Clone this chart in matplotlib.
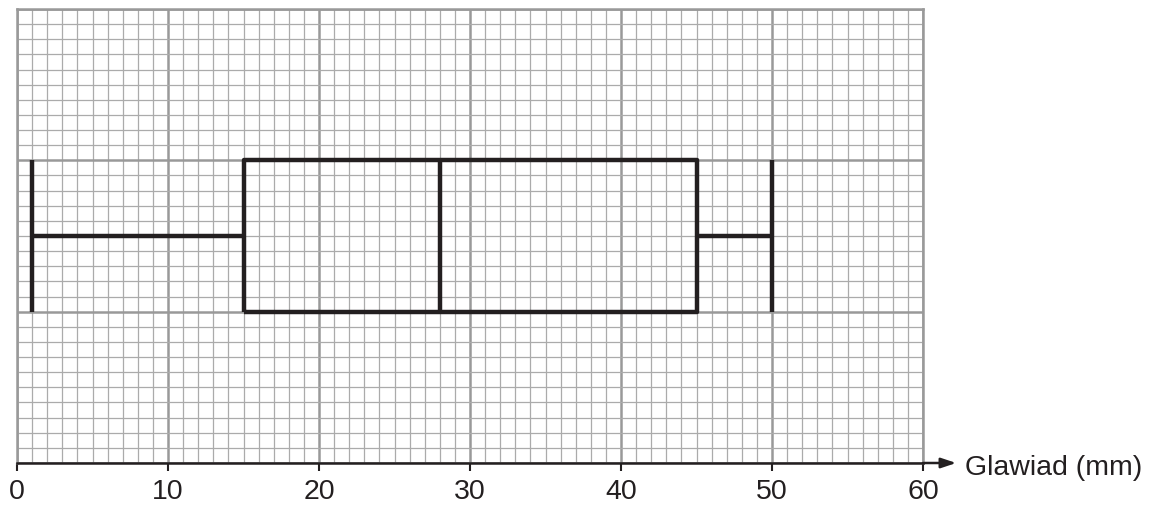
import matplotlib.pyplot as plt
from matplotlib.ticker import MultipleLocator

plt.rcParams['font.family'] = ['Liberation Sans', 'DejaVu Sans']

# Five-number summary of the box plot (rainfall, mm)
box_min = 1
box_q1 = 15
box_median = 28
box_q3 = 45
box_max = 50

x_ticks = [0, 10, 20, 30, 40, 50, 60]
x_label = 'Glawiad (mm)'

# vertical placement of the box on the grid (grid units)
box_bottom, box_top = 10, 20
box_mid = (box_bottom + box_top) / 2

fig = plt.figure(figsize=(11.55, 5.06), dpi=100)
ax = fig.add_axes([17 / 1155, 42 / 506, 906 / 1155, 454 / 506])
ax.set_xlim(0, 60)
ax.set_ylim(0, 30)

# graph paper
ax.xaxis.set_minor_locator(MultipleLocator(1))
ax.yaxis.set_minor_locator(MultipleLocator(1))
ax.yaxis.set_major_locator(MultipleLocator(10))
ax.grid(which='minor', color='#ababab', lw=0.9)
ax.grid(which='major', color='#999999', lw=1.8)
ax.set_axisbelow(True)

for side in ['top', 'left', 'right']:
    ax.spines[side].set_color('#999999')
    ax.spines[side].set_linewidth(1.8)
ax.spines['bottom'].set_color('#231f20')
ax.spines['bottom'].set_linewidth(1.8)

ax.set_xticks(x_ticks)
ax.set_xticklabels([str(t) for t in x_ticks], fontsize=20.5)
ax.tick_params(axis='x', which='major', direction='out', length=6, width=1.5,
               color='#231f20', pad=5, labelcolor='#231f20')
ax.tick_params(axis='x', which='minor', length=0)
ax.tick_params(axis='y', which='both', left=False, labelleft=False)

# box plot
kw = dict(color='#231f20', lw=3.2, solid_capstyle='butt', zorder=5)
ax.plot([box_q1, box_q3, box_q3, box_q1, box_q1],
        [box_bottom, box_bottom, box_top, box_top, box_bottom], **kw)
ax.plot([box_median, box_median], [box_bottom, box_top], **kw)
ax.plot([box_min, box_q1], [box_mid, box_mid], **kw)
ax.plot([box_q3, box_max], [box_mid, box_mid], **kw)
ax.plot([box_min, box_min], [box_bottom, box_top], **kw)
ax.plot([box_max, box_max], [box_bottom, box_top], **kw)

# axis arrow and label
ax.annotate('', xy=(62.2, 0), xytext=(60, 0), xycoords='data',
            arrowprops=dict(arrowstyle='-|>,head_length=0.9,head_width=0.3',
                            color='#231f20', lw=1.8, shrinkA=0, shrinkB=0),
            annotation_clip=False)
ax.text(62.8, -0.25, x_label, fontsize=20.5, va='center', ha='left', color='#231f20')

fig.savefig('out.png', dpi=100)
